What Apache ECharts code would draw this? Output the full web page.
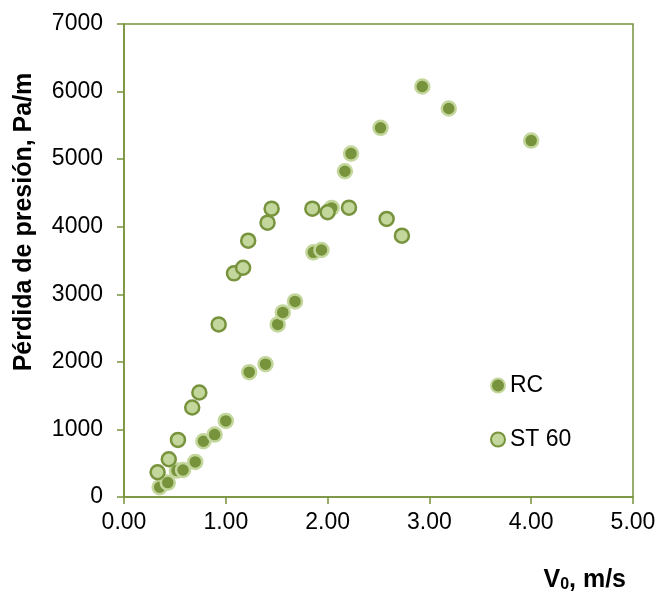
<!DOCTYPE html>
<html>
<head>
<meta charset="utf-8">
<title>Pérdida de presión</title>
<script src="https://cdn.jsdelivr.net/npm/echarts@6/dist/echarts.min.js"></script>
<style>
  html, body { margin: 0; padding: 0; background: #ffffff; }
  #chart { width: 661px; height: 597px; }
</style>
</head>
<body>
<div id="chart"></div>
<script>
// Velocity (m/s) and pressure loss (Pa/m) for each series
var rcV = [0.35, 0.43, 0.52, 0.58, 0.70, 0.78, 0.89, 1.00, 1.23, 1.39, 1.51, 1.56, 1.68, 1.86, 1.94, 2.04, 2.17, 2.23, 2.52, 2.93, 3.19, 4.00];
var rcP = [144, 213, 391, 400, 519, 825, 924, 1126, 1848, 1966, 2554, 2732, 2895, 3621, 3655, 4278, 4821, 5082, 5463, 6075, 5749, 5275];
var stV = [0.33, 0.44, 0.53, 0.67, 0.74, 0.93, 1.08, 1.17, 1.22, 1.41, 1.45, 1.85, 2.00, 2.21, 2.58, 2.73];
var stP = [366, 559, 845, 1324, 1547, 2554, 3310, 3393, 3793, 4060, 4267, 4267, 4214, 4282, 4115, 3867];

var seriesNames = ['RC', 'ST 60'];
var yTitle = 'Pérdida de presión, Pa/m';

var dark = '#77933C';
var light = '#C3D69B';
var font = '"Liberation Sans", Arial, sans-serif';

function pairs(xs, ys) {
  return xs.map(function (x, i) { return [x, ys[i]]; });
}

var chart = echarts.init(document.getElementById('chart'));
chart.setOption({
  animation: false,
  backgroundColor: '#ffffff',
  grid: {
    left: 124, right: 28, top: 24, bottom: 100,
    show: true, borderColor: dark, borderWidth: 1.5,
    outerBoundsMode: 'none'
  },
  xAxis: {
    type: 'value', min: 0, max: 5, interval: 1,
    axisLine: { show: true, lineStyle: { color: dark, width: 1.5 } },
    axisTick: { show: true, length: 7, lineStyle: { color: dark, width: 1.5 } },
    splitLine: { show: false },
    axisLabel: {
      margin: 14, color: '#000', fontFamily: font, fontSize: 23,
      formatter: function (v) { return v.toFixed(2); }
    }
  },
  yAxis: {
    type: 'value', min: 0, max: 7000, interval: 1000,
    axisLine: { show: true, lineStyle: { color: dark, width: 1.5 } },
    axisTick: { show: true, length: 7, lineStyle: { color: dark, width: 1.5 } },
    splitLine: { show: false },
    axisLabel: {
      margin: 21, color: '#000', fontFamily: font, fontSize: 23,
      formatter: function (v) { return String(v); }
    }
  },
  legend: {
    orient: 'vertical', left: 485, top: 369,
    itemWidth: 14, itemHeight: 14, itemGap: 31,
    textStyle: { color: '#000', fontFamily: font, fontSize: 23, lineHeight: 23 },
    data: seriesNames
  },
  series: [
    {
      name: seriesNames[0], type: 'scatter', symbol: 'circle', symbolSize: 14,
      itemStyle: { color: dark, borderColor: light, borderWidth: 2.5, opacity: 1 },
      data: pairs(rcV, rcP), z: 2
    },
    {
      name: seriesNames[1], type: 'scatter', symbol: 'circle', symbolSize: 14,
      itemStyle: { color: light, borderColor: dark, borderWidth: 2.5, opacity: 1 },
      data: pairs(stV, stP), z: 3
    }
  ],
  graphic: [
    {
      type: 'text', x: 24, y: 222, rotation: Math.PI / 2,
      style: {
        text: yTitle, fill: '#000', font: 'bold 25px ' + font,
        textAlign: 'center', textVerticalAlign: 'middle'
      }
    },
    {
      type: 'text', x: 626, y: 580,
      style: {
        text: 'V{sub|0}, m/s', fill: '#000', font: 'bold 25px ' + font,
        textAlign: 'right', textVerticalAlign: 'middle',
        rich: {
          sub: { font: 'bold 16px ' + font, fill: '#000', padding: [10, 0, 0, 0] }
        }
      }
    }
  ]
});
</script>
</body>
</html>
